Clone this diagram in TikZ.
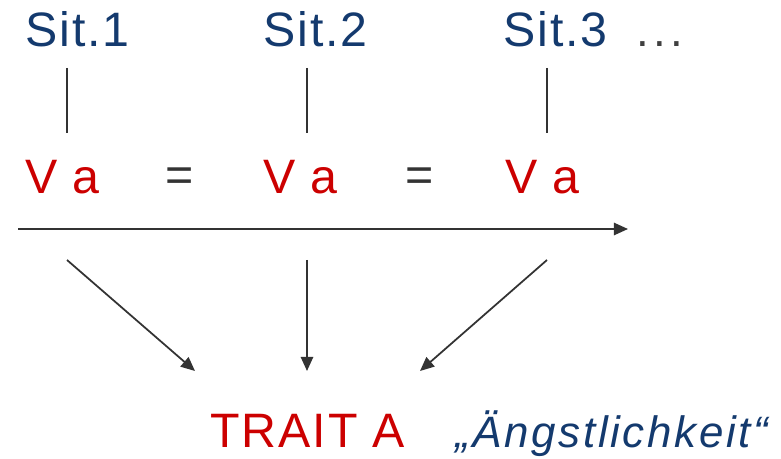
\documentclass[tikz,border=0pt]{standalone}
\usepackage{fontspec}
\setmainfont{Liberation Sans}
\usetikzlibrary{arrows.meta}
\definecolor{navy}{RGB}{20,58,110}
\definecolor{tred}{RGB}{204,0,0}
\definecolor{lgray}{RGB}{51,51,51}
\definecolor{dotgray}{RGB}{64,64,64}
\newfontfamily\spaced[LetterSpace=4]{Liberation Sans}
\newfontfamily\wide[LetterSpace=6]{Liberation Sans}
\newfontfamily\dotsfont[LetterSpace=10]{Liberation Sans}
\begin{document}
\begin{tikzpicture}[x=0.02cm,y=-0.02cm,
  sit/.style={inner sep=0pt,anchor=base west,text=navy,font=\spaced\fontsize{27.5}{30}\selectfont},
  va/.style={inner sep=0pt,anchor=base west,text=tred,font=\spaced\fontsize{27.5}{30}\selectfont},
  eq/.style={inner sep=0pt,text=lgray,font=\fontsize{27.5}{30}\selectfont},
  conn/.style={draw=lgray,line width=1pt},
  arr/.style={conn,-{Triangle[length=8pt,width=7pt]}}]
\useasboundingbox (0,0) rectangle (781,459);
\node[sit] (s1) at (25,47) {Sit.1};
\node[sit] (s2) at (263,47) {Sit.2};
\node[sit] (s3) at (503,47) {Sit.3};
\node[inner sep=0pt,anchor=base west,text=dotgray,font=\dotsfont\fontsize{26}{30}\selectfont] (s3dots) at (636,47) {...};
\node[va] (v1) at (25,194) {V a};
\node[va] (v2) at (263,194) {V a};
\node[va] (v3) at (505,194) {V a};
\node[eq] (e1) at (180,180) {=};
\node[eq] (e2) at (420,180) {=};
\node[va] (trait) at (210,447) {TRAIT A};
\node[sit,font=\wide\fontsize{25}{28}\selectfont\itshape] (angst) at (455,447) {„Ängstlichkeit“};
\coordinate (l1a) at (67,68); \coordinate (l1b) at (67,133);
\coordinate (l2a) at (307,68); \coordinate (l2b) at (307,133);
\coordinate (l3a) at (547,68); \coordinate (l3b) at (547,133);
\draw[conn] (l1a) -- (l1b);
\draw[conn] (l2a) -- (l2b);
\draw[conn] (l3a) -- (l3b);
\coordinate (ha) at (18,229); \coordinate (hb) at (628,229);
\draw[arr] (ha) -- (hb);
\coordinate (a1) at (67,260); \coordinate (b1) at (195,371);
\coordinate (a2) at (307,260); \coordinate (b2) at (307,371);
\coordinate (a3) at (547,260); \coordinate (b3) at (420,371);
\draw[arr] (a1) -- (b1);
\draw[arr] (a2) -- (b2);
\draw[arr] (a3) -- (b3);
\end{tikzpicture}
\end{document}
